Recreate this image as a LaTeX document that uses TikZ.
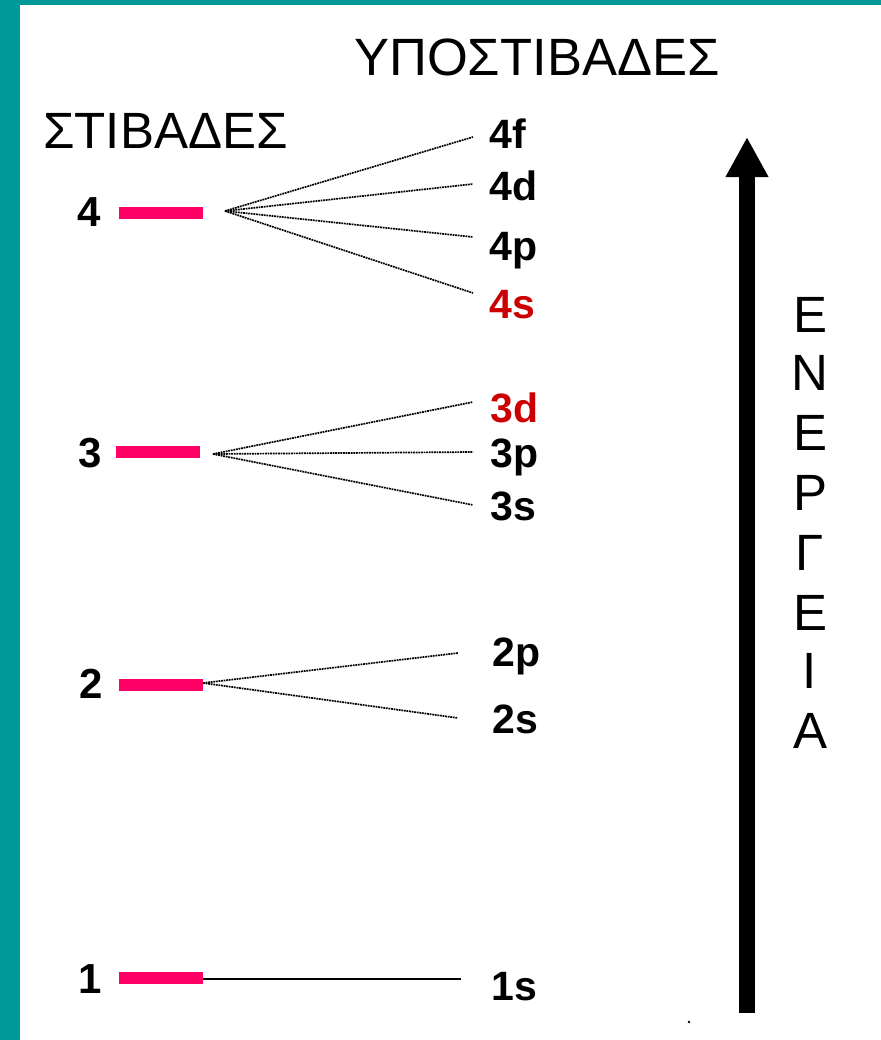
\documentclass[tikz,border=0pt]{standalone}
\usepackage{fontspec}
\setmainfont{Liberation Sans}
\usetikzlibrary{arrows.meta}
\definecolor{teal1}{HTML}{009999}
\definecolor{barpink}{HTML}{FF0066}
\definecolor{labred}{HTML}{CC0000}
\tikzset{
  title/.style={font=\fontsize{52.5bp}{60bp}\selectfont, inner sep=0pt, anchor=base west},
  shelltitle/.style={font=\fontsize{51bp}{60bp}\selectfont, inner sep=0pt, anchor=base west},
  energy/.style={font=\fontsize{51bp}{60bp}\selectfont, inner sep=0pt, anchor=base},
  shell/.style={font=\fontsize{42bp}{50bp}\selectfont\bfseries, inner sep=0pt, anchor=base west},
  sub/.style={font=\fontsize{41bp}{50bp}\selectfont\bfseries, inner sep=0pt, anchor=base west},
  redsub/.style={sub, text=labred},
  bar/.style={fill=barpink, draw=none, minimum width=84bp, minimum height=12bp, inner sep=0pt},
  fan/.style={draw=black, line width=1.7bp, dash pattern=on 1.8bp off 0.8bp},
  solidline/.style={draw=black, line width=1.4bp},
}
\begin{document}
\begin{tikzpicture}[x=1bp, y=-1bp]
\useasboundingbox (0,0) rectangle (881,1040);
\fill[white] (0,0) rectangle (881,1040);
\fill[teal1] (0,0) rectangle (20,1040);
\fill[teal1] (0,0) rectangle (881,5);

% titles
\node[title] (subt) at (354,75) {ΥΠΟΣΤΙΒΑΔΕΣ};
\node[shelltitle] (shellt) at (43,148) {ΣΤΙΒΑΔΕΣ};

% shell numbers
\node[shell] (n4) at (77,226) {4};
\node[shell] (n3) at (78,467) {3};
\node[shell] (n2) at (79,698) {2};
\node[shell] (n1) at (78,993) {1};

% bars
\node[bar] (b4) at (161,213) {};
\node[bar] (b3) at (158,452) {};
\node[bar] (b2) at (161,685) {};
\node[bar] (b1) at (161,978) {};

% fan origins
\coordinate (o4) at (225,211);
\coordinate (o3) at (213,454);
\coordinate (o2) at (203,683);
\coordinate (o1) at (203,979);

% endpoints
\coordinate (e4f) at (473,137);
\coordinate (e4d) at (473,184);
\coordinate (e4p) at (473,237);
\coordinate (e4s) at (473,293);
\coordinate (e3d) at (473,402);
\coordinate (e3p) at (473,452);
\coordinate (e3s) at (473,505);
\coordinate (e2p) at (458,653);
\coordinate (e2s) at (458,718);
\coordinate (e1s) at (461,979);

% subshell labels
\node[sub] (l4f) at (489,148) {4f};
\node[sub] (l4d) at (489,200) {4d};
\node[sub] (l4p) at (489,260) {4p};
\node[redsub] (l4s) at (489,318) {4s};
\node[redsub] (l3d) at (490,422) {3d};
\node[sub] (l3p) at (490,467) {3p};
\node[sub] (l3s) at (490,520) {3s};
\node[sub] (l2p) at (492,666) {2p};
\node[sub] (l2s) at (492,733) {2s};
\node[sub] (l1s) at (491,1000) {1s};

% connectors
\draw[fan] (o4) -- (e4f);
\draw[fan] (o4) -- (e4d);
\draw[fan] (o4) -- (e4p);
\draw[fan] (o4) -- (e4s);
\draw[fan] (o3) -- (e3d);
\draw[fan] (o3) -- (e3p);
\draw[fan] (o3) -- (e3s);
\draw[fan] (o2) -- (e2p);
\draw[fan] (o2) -- (e2s);
\draw[solidline] (o1) -- (e1s);

% energy arrow
\coordinate (abot) at (747,1013);
\coordinate (atop) at (747,137);
\draw[line width=16bp, -{Triangle[width=40bp,length=40bp]}] (abot) -- (atop);

% energy letters
\node[energy] (g1) at (810,332) {Ε};
\node[energy] (g2) at (810,390) {Ν};
\node[energy] (g3) at (810,450) {Ε};
\node[energy] (g4) at (810,510) {Ρ};
\node[energy] (g5) at (810,570) {Γ};
\node[energy] (g6) at (810,630) {Ε};
\node[energy] (g7) at (810,688) {Ι};
\node[energy] (g8) at (810,748) {Α};

% stray dot
\fill (689,1022) circle (1.3bp);
\end{tikzpicture}
\end{document}
